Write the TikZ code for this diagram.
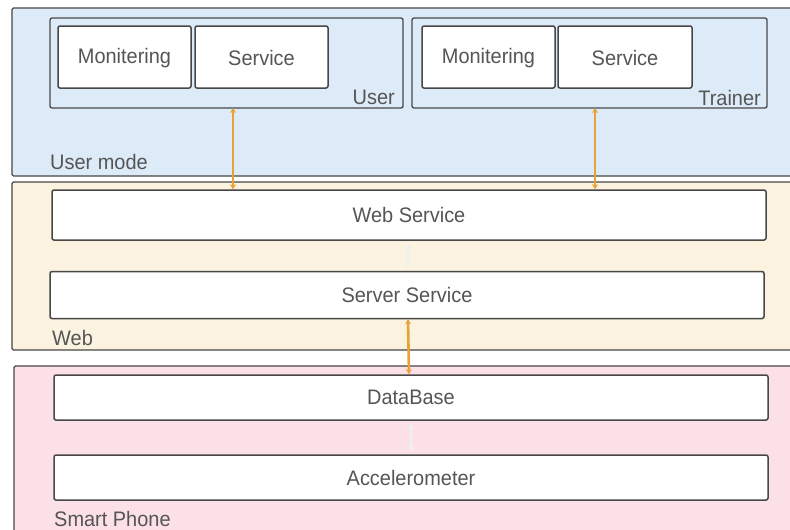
\documentclass[tikz,border=0pt]{standalone}
\usepackage{fontspec}
\setmainfont{Liberation Sans}
\newfontfamily\lblfont[FakeStretch=0.95]{Liberation Sans}
\usetikzlibrary{arrows.meta,positioning}
\definecolor{modeblue}{HTML}{DCEBF7}
\definecolor{webbeige}{HTML}{FBF2DF}
\definecolor{phonepink}{HTML}{FCE0E7}
\definecolor{edgegray}{HTML}{474747}
\definecolor{txtgray}{HTML}{555555}
\definecolor{linkorange}{HTML}{E9A234}
\tikzset{
  layer/.style={draw=edgegray, line width=1.4pt, rounded corners=1.5pt},
  groupbox/.style={draw=edgegray, line width=1.3pt, rounded corners=2pt},
  unitbox/.style={draw=edgegray, fill=white, line width=1.5pt, rounded corners=2pt},
  lbl/.style={text=txtgray, font=\lblfont\fontsize{21}{23}\selectfont, inner sep=0pt},
  orangelink/.style={draw=linkorange, line width=2.6pt, {Stealth[length=5pt,width=6pt]}-{Stealth[length=5pt,width=6pt]}},
  whitelink/.style={draw=white!88!gray, line width=2pt, {Stealth[length=5pt,width=6pt]}-{Stealth[length=5pt,width=6pt]}},
}
\begin{document}
\begin{tikzpicture}[x=1pt,y=-1pt]
\useasboundingbox (0,0) rectangle (790,530);
\clip (0,0) rectangle (790,530);
\fill[white] (0,0) rectangle (790,530);

% three layers
\draw[layer, fill=modeblue]  (12,8) rectangle (800,176);
\draw[layer, fill=webbeige]  (12,182) rectangle (800,350);
\draw[layer, fill=phonepink] (14,366) rectangle (800,545);

% user mode groups
\draw[groupbox] (50,18) rectangle (403,108);
\draw[groupbox] (412,18) rectangle (767,108);
\coordinate (userlink) at (233,108);
\coordinate (trainerlink) at (595,108);

\node[unitbox, minimum width=133pt, minimum height=62pt] (mon1) at (124.5,57) {};
\node[lbl] at ([yshift=-1pt]mon1) {Monitering};
\node[unitbox, minimum width=133pt, minimum height=62pt] (srv1) at (261.5,57) {};
\node[lbl] at ([yshift=-1pt]srv1) {Service};
\node[unitbox, minimum width=133pt, minimum height=62pt] (mon2) at (488.5,57) {};
\node[lbl] at ([yshift=-1pt]mon2) {Monitering};
\node[unitbox, minimum width=134pt, minimum height=62pt] (srv2) at (625,57) {};
\node[lbl] at ([yshift=-1pt]srv2) {Service};

\node[lbl, anchor=east] (userlbl) at (395,97) {User};
\node[lbl, anchor=east] (trainerlbl) at (761,98) {Trainer};
\node[lbl, anchor=west] (umlbl) at (50,162) {User mode};

% web layer
\node[unitbox, minimum width=714pt, minimum height=50pt] (websrv) at (409,215) {};
\node[lbl] at (websrv) {Web Service};
\node[unitbox, minimum width=714pt, minimum height=47pt] (serversrv) at (407,295) {};
\node[lbl] at (serversrv) {Server Service};
\node[lbl, anchor=west] (weblbl) at (52,338) {Web};

% smart phone layer
\node[unitbox, minimum width=714pt, minimum height=45pt] (db) at (411,397.5) {};
\node[lbl] at (db) {DataBase};
\node[unitbox, minimum width=714pt, minimum height=45pt] (acc) at (411,477.5) {};
\node[lbl] at (acc) {Accelerometer};
\node[lbl, anchor=west] (phonelbl) at (54,519) {Smart Phone};

% links
\draw[orangelink] (userlink) -- (userlink |- websrv.north);
\draw[orangelink] (trainerlink) -- (trainerlink |- websrv.north);
\draw[orangelink] ([xshift=1pt]serversrv.south) -- ([xshift=-2pt]db.north);
\draw[whitelink] ([yshift=-3pt]websrv.south) -- ([yshift=3pt]serversrv.north);
\draw[whitelink] ([yshift=-3pt]db.south) -- ([yshift=3pt]acc.north);
\end{tikzpicture}
\end{document}
